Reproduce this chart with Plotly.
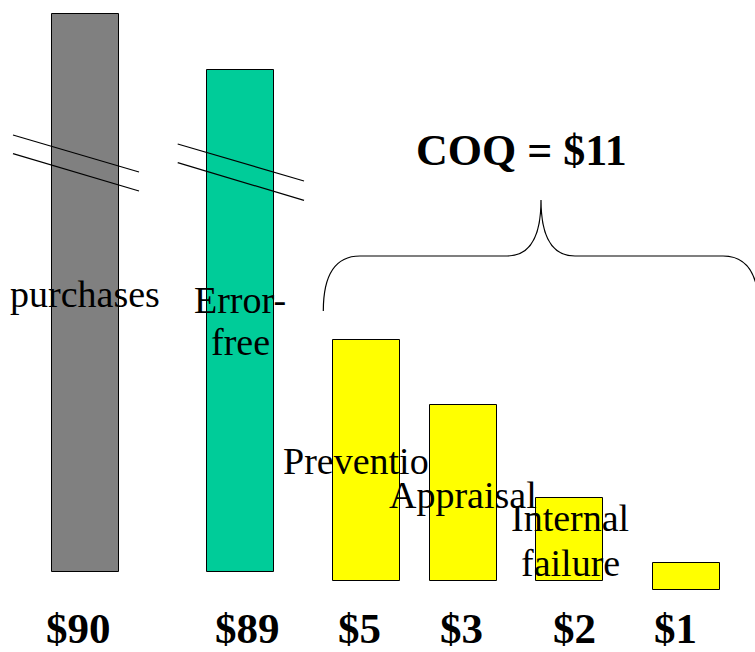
import plotly.graph_objects as go

# Cost breakdown: total purchases vs. error-free cost and the cost-of-quality parts
categories = ["purchases", "Error-free", "Prevention", "Appraisal", "Internal failure", "External failure"]
amounts = ["$90", "$89", "$5", "$3", "$2", "$1"]
bar_heights = [558, 502, 241, 176, 83, 27]   # schematic heights (tall bars are axis-broken)
bar_bases = [80, 80, 71, 71, 71, 62]
coq_total = "$11"

# layout helpers (drawing units, y up)
W, H = 755, 652
bar_x = [85, 240.2, 366.2, 463.2, 569.8, 686.2]
bar_w = 67
colors = ["#808080", "#00CC99", "#FFFF00", "#FFFF00", "#FFFF00", "#FFFF00"]
serif = "Liberation Serif, Times New Roman, serif"

fig = go.Figure()
fig.add_trace(go.Bar(
    x=bar_x, y=bar_heights, base=bar_bases, width=bar_w,
    marker=dict(color=colors, line=dict(color="black", width=1)),
    hoverinfo="skip", showlegend=False,
))

def py(pix):
    return H - pix

shapes = []
# axis-break marks across the two tall bars
for (x0, y0, x1, y1) in [(13, 135, 139, 172), (13, 153.7, 139, 191),
                         (177.7, 144, 304, 181), (177.7, 162.7, 304, 200.3)]:
    shapes.append(dict(type="line", xref="x", yref="y", x0=x0, y0=py(y0), x1=x1, y1=py(y1),
                       line=dict(color="black", width=1.2), layer="above"))

# curly brace over the cost-of-quality bars
brace = (f"M 323.3,{py(311)} Q 323.3,{py(256)} 360,{py(256)} L 507,{py(256)} "
         f"Q 541,{py(256)} 541,{py(200)} Q 541,{py(256)} 575,{py(256)} "
         f"L 723,{py(256)} Q 759,{py(256)} 759,{py(311)}")
shapes.append(dict(type="path", xref="x", yref="y", path=brace,
                   line=dict(color="black", width=1.2)))

annotations = []
def label(text, x, pix_center, size=38, bold=False):
    annotations.append(dict(
        text=f"<b>{text}</b>" if bold else text, x=x, y=py(pix_center), xref="x", yref="y",
        showarrow=False, xanchor="center", yanchor="middle",
        font=dict(family=serif, size=size, color="black")))

# category captions
label(categories[0], 84.5, 294)
label("Error-", 240, 300)
label("free", 240, 342)
label("Preventio", 356, 461)
label(categories[3], 462.5, 495)
label("Internal", 570, 518)
label("failure", 570, 563)

# total cost of quality
label(f"COQ = {coq_total}", 521, 150, size=44, bold=True)

# dollar amounts under each bar
amount_x = [78, 247, 359.5, 461, 574, 675]
for t, x in zip(amounts, amount_x):
    label(t, x, 628, size=43, bold=True)

fig.update_layout(
    width=W, height=H, margin=dict(l=0, r=0, t=0, b=0),
    paper_bgcolor="white", plot_bgcolor="white",
    xaxis=dict(range=[0, W], visible=False, fixedrange=True),
    yaxis=dict(range=[0, H], visible=False, fixedrange=True),
    shapes=shapes, annotations=annotations, bargap=0,
)

fig.write_html("out.html")
